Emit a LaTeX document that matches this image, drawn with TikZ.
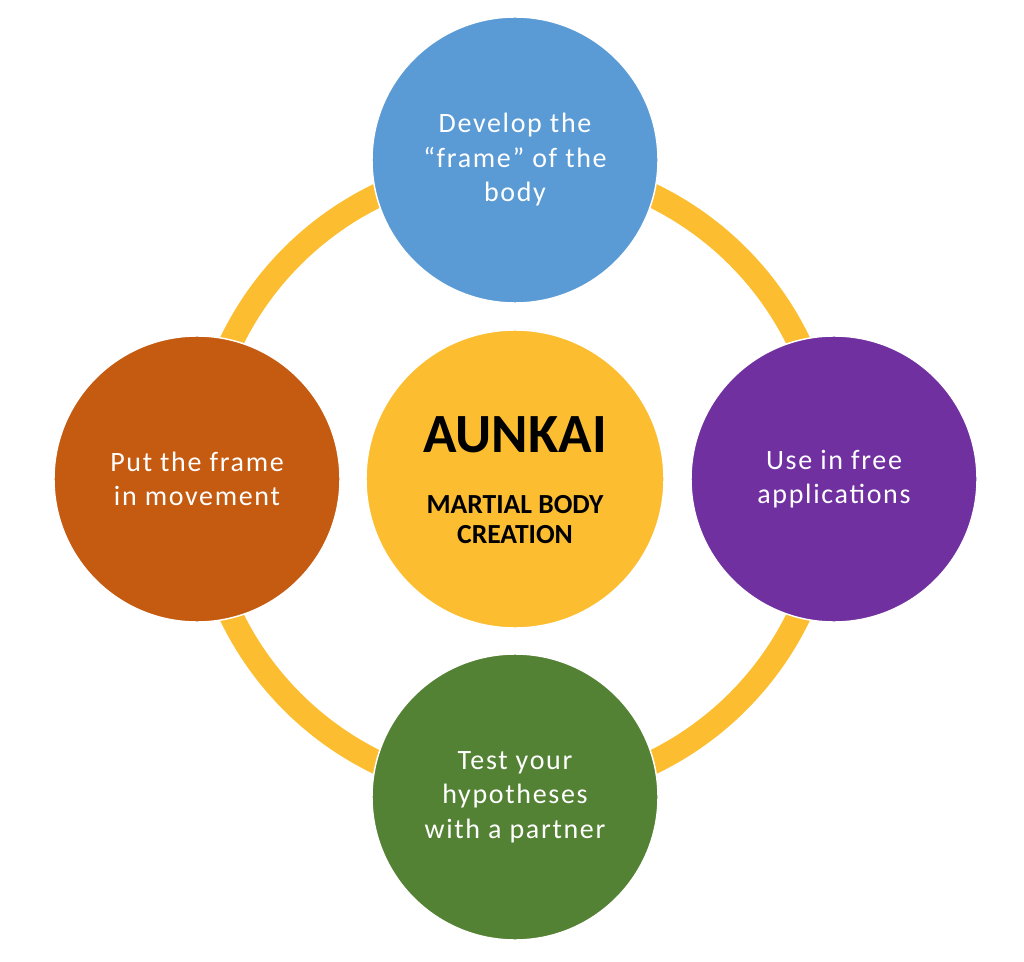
\documentclass[tikz,border=0pt]{standalone}
\usepackage{fontspec}
\setmainfont{Carlito}
\usepackage{xcolor}

\definecolor{ringgold}{RGB}{252,190,48}
\definecolor{stepblue}{RGB}{91,155,213}
\definecolor{steppurple}{RGB}{112,48,160}
\definecolor{stepgreen}{RGB}{84,130,53}
\definecolor{steporange}{RGB}{197,90,17}

\tikzset{
  stage/.style={circle, draw=white, line width=1.1pt, minimum size=214.5pt,
    inner sep=0pt, align=center, text=white,
    font=\addfontfeature{LetterSpace=6}\fontsize{21}{25.9}\selectfont},
  core/.style={circle, draw=white, line width=1.1pt, minimum size=223.5pt,
    inner sep=0pt, align=center, fill=ringgold, text=black}
}

\begin{document}
\begin{tikzpicture}[x=0.75pt,y=-0.75pt]
    \useasboundingbox (0,0) rectangle (1024,962);

    %Ring
    \coordinate (hub) at (515,479);
    \draw[ringgold, line width=18pt] (hub) circle[radius=315];

    %Stages round the ring
    \node[stage, fill=stepblue]   (frame)   at (515,160) {Develop the\\“frame” of the\\body};
    \node[stage, fill=steppurple] (free)    at (834,479) {Use in free\\applications};
    \node[stage, fill=stepgreen]  (partner) at (515,797) {Test your\\hypotheses\\with a partner};
    \node[stage, fill=steporange] (move)    at (197,479) {Put the frame\\in movement};

    %Centre
    \node[core] (aunkai) at (515,479) {};
    \node[font=\bfseries\fontsize{41.5}{41.5}\selectfont] (title) at (515,435) {AUNKAI};
    \node[font=\bfseries\fontsize{20.7}{22.5}\selectfont, align=center] (sub) at (515,520) {MARTIAL BODY\\CREATION};
\end{tikzpicture}
\end{document}
